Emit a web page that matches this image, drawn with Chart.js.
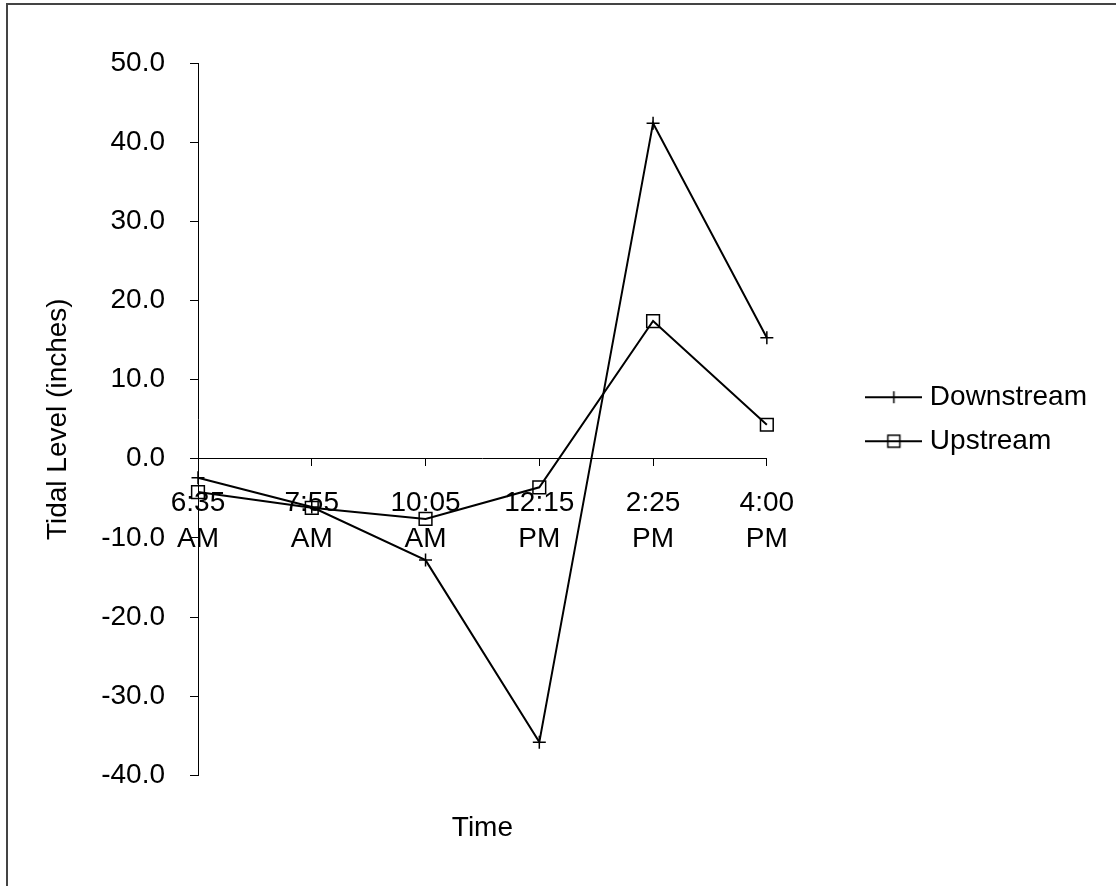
<!DOCTYPE html>
<html>
<head>
<meta charset="utf-8">
<script src="https://cdn.jsdelivr.net/npm/chart.js@4/dist/chart.umd.min.js"></script>
<style>
  html, body { margin: 0; padding: 0; background: #fff; }
  #wrap { position: relative; width: 1116px; height: 886px; }
  #frame {
    position: absolute; left: 6px; top: 3px; right: 0; bottom: 0;
    border-left: 2px solid #444; border-top: 2px solid #444;
    pointer-events: none;
  }
</style>
</head>
<body>
<div id="wrap">
  <canvas id="tideChart" width="1116" height="886"></canvas>
  <div id="frame"></div>
</div>
<script>
// chart data
const timeLabels = [['6:35', 'AM'], ['7:55', 'AM'], ['10:05', 'AM'], ['12:15', 'PM'], ['2:25', 'PM'], ['4:00', 'PM']];
const downstream = [-2.4, -6.1, -12.8, -35.8, 42.4, 15.3];
const upstream = [-4.2, -6.2, -7.6, -3.6, 17.4, 4.3];
const yMin = -40;
const yMax = 50;
const yStep = 10;

const FONT = "'Liberation Sans', Arial, sans-serif";
const FS = 28;

// Legend symbol: short line with the series marker in the middle
function legendSymbol(kind) {
    const c = document.createElement('canvas');
    c.width = 57;
    c.height = 20;
    const ctx = c.getContext('2d');
    ctx.strokeStyle = '#000';
    ctx.lineWidth = 2;
    ctx.beginPath();
    ctx.moveTo(0, 10);
    ctx.lineTo(57, 10);
    ctx.stroke();
    ctx.lineWidth = 1.5;
    ctx.beginPath();
    if (kind === 'cross') {
        ctx.moveTo(28.5, 4); ctx.lineTo(28.5, 16);
        ctx.moveTo(22.5, 10); ctx.lineTo(34.5, 10);
    } else {
        ctx.rect(22.5, 4, 12, 12);
    }
    ctx.stroke();
    return c;
}

const symbols = [legendSymbol('cross'), legendSymbol('rect')];

new Chart(document.getElementById('tideChart'), {
    type: 'line',
    data: {
        labels: timeLabels,
        datasets: [{
            label: 'Downstream',
            data: downstream,
            xAxisID: 'x',
            yAxisID: 'y',
            borderColor: '#000',
            borderWidth: 2,
            pointStyle: 'cross',
            pointRadius: 6.5,
            pointBorderWidth: 1.5,
            pointBorderColor: '#000',
            pointBackgroundColor: '#000',
            tension: 0
        }, {
            label: 'Upstream',
            data: upstream,
            xAxisID: 'x',
            yAxisID: 'y',
            borderColor: '#000',
            borderWidth: 2,
            pointStyle: 'rect',
            pointRadius: 9,
            pointBorderWidth: 1.5,
            pointBorderColor: '#000',
            pointBackgroundColor: 'rgba(0,0,0,0)',
            tension: 0
        }]
    },
    options: {
        responsive: false,
        animation: false,
        layout: {
            padding: { left: 20, right: 19, top: 63, bottom: 10 }
        },
        plugins: {
            tooltip: { enabled: false },
            legend: {
                position: 'right',
                fullSize: false,
                maxWidth: 400,
                labels: {
                    color: '#000',
                    font: { family: FONT, size: FS },
                    usePointStyle: true,
                    pointStyleWidth: 44,
                    padding: 16,
                    generateLabels: function(chart) {
                        return chart.data.datasets.map((ds, i) => ({
                            text: ds.label,
                            fontColor: '#000',
                            pointStyle: symbols[i],
                            strokeStyle: '#000',
                            fillStyle: '#000',
                            lineWidth: 0,
                            datasetIndex: i,
                            hidden: false
                        }));
                    }
                }
            }
        },
        scales: {
            x: {
                type: 'category',
                position: { y: 0 },
                offset: false,
                border: { display: true, color: '#000', width: 1 },
                grid: { display: true, drawOnChartArea: false, drawTicks: true, tickLength: 7, color: '#000' },
                ticks: {
                    color: '#000',
                    padding: 19,
                    maxRotation: 0,
                    autoSkip: false,
                    font: { family: FONT, size: FS, lineHeight: 1.29 }
                }
            },
            x2: {
                type: 'category',
                position: 'bottom',
                offset: false,
                border: { display: false },
                grid: { display: false, drawTicks: false },
                ticks: { display: false },
                title: {
                    display: true,
                    text: 'Time',
                    color: '#000',
                    font: { family: FONT, size: FS },
                    padding: { top: 36, bottom: 31 }
                }
            },
            y: {
                type: 'linear',
                position: 'left',
                min: yMin,
                max: yMax,
                border: { display: true, color: '#000', width: 1 },
                grid: { display: true, drawOnChartArea: false, drawTicks: true, tickLength: 8, color: '#000' },
                ticks: {
                    stepSize: yStep,
                    color: '#000',
                    padding: 25,
                    font: { family: FONT, size: FS },
                    callback: function(value) {
                        return value.toFixed(1);
                    }
                },
                title: {
                    display: true,
                    text: 'Tidal Level (inches)',
                    color: '#000',
                    font: { family: FONT, size: FS },
                    padding: { top: 21, bottom: 2 }
                },
                afterFit: function(scale) {
                    scale.width = 178;
                }
            },
            yR: {
                type: 'linear',
                position: 'right',
                border: { display: false },
                grid: { display: false, drawTicks: false },
                ticks: { display: false },
                afterFit: function(scale) {
                    scale.width = 89;
                }
            }
        }
    }
});
</script>
</body>
</html>
